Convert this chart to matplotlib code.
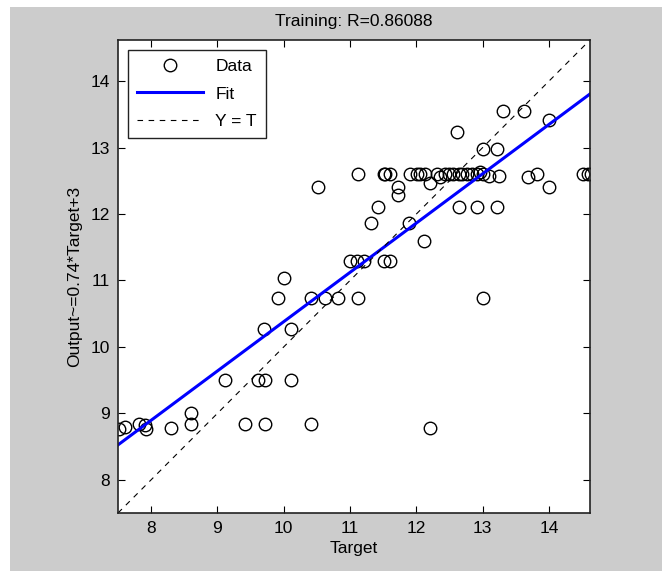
import numpy as np
import matplotlib.pyplot as plt
from matplotlib.patches import Rectangle

plt.rcParams['font.family'] = ['Liberation Sans', 'DejaVu Sans']

# values
target = [7.52, 7.61, 7.81, 7.90, 7.92, 8.30, 8.60, 8.60, 9.11, 9.41,
          9.61, 9.71, 9.71, 9.70, 9.91, 10.01, 10.11, 10.11, 10.41, 10.41,
          10.52, 10.62, 10.82, 11.00, 11.10, 11.12, 11.12, 11.21, 11.31, 11.42,
          11.51, 11.61, 11.51, 11.53, 11.61, 11.72, 11.72, 11.89, 11.90, 12.01,
          12.06, 12.11, 12.13, 12.21, 12.21, 12.31, 12.36, 12.44, 12.49, 12.56,
          12.61, 12.64, 12.65, 12.69, 12.76, 12.84, 12.91, 12.92, 12.96, 13.01,
          13.01, 13.01, 13.09, 13.22, 13.22, 13.24, 13.31, 13.62, 13.69, 13.82,
          14.00, 14.00, 14.52, 14.59, 14.63]
output = [8.76, 8.79, 8.84, 8.82, 8.77, 8.78, 9.00, 8.84, 9.50, 8.84,
          9.50, 9.50, 8.84, 10.27, 10.73, 11.03, 9.50, 10.27, 8.84, 10.73,
          12.40, 10.73, 10.73, 11.29, 11.29, 10.73, 12.61, 11.29, 11.87, 12.10,
          11.29, 11.29, 12.61, 12.61, 12.61, 12.41, 12.28, 11.87, 12.61, 12.61,
          12.61, 11.59, 12.61, 12.47, 8.78, 12.61, 12.56, 12.61, 12.61, 12.61,
          13.24, 12.61, 12.10, 12.61, 12.61, 12.61, 12.61, 12.10, 12.63, 12.61,
          12.98, 10.73, 12.58, 12.98, 12.10, 12.58, 13.55, 13.55, 12.56, 12.61,
          13.42, 12.41, 12.61, 12.61, 12.61]
fit_slope = 0.742
fit_intercept = 2.96
lims = [7.5, 14.62]
ticks = [8, 9, 10, 11, 12, 13, 14]

fig = plt.figure(figsize=(6.62, 5.71), dpi=100, facecolor='white')
# grey figure panel (white strip on top and left as in the screenshot)
fig.patches.append(Rectangle((10 / 662, 0), 1, (571 - 7) / 571,
                             transform=fig.transFigure, facecolor='#cccccc',
                             edgecolor='none', zorder=-10))

ax = fig.add_axes([118 / 662, 58 / 571, 472 / 662, 473 / 571])
ax.set_facecolor('white')

xs = np.array(lims)
ax.plot(target, output, 'o', mfc='none', mec='black', ms=9, mew=1.0, label='Data')
ax.plot(xs, fit_slope * xs + fit_intercept, color='blue', lw=2.2, label='Fit')
ax.plot(xs, xs, '--', color='black', lw=0.8, dashes=(5, 5), label='Y = T')

ax.set_xlim(lims)
ax.set_ylim(lims)
ax.set_xticks(ticks)
ax.set_yticks(ticks)
ax.tick_params(direction='in', top=True, right=True, length=5, width=0.8,
               labelsize=12.5, pad=6)
for s in ax.spines.values():
    s.set_linewidth(1.2)
    s.set_color('#222222')

ax.set_title('Training: R=0.86088', fontsize=12.5, pad=10)
ax.set_xlabel('Target', fontsize=12.5, labelpad=3)
ax.set_ylabel('Output ~= 0.74*Target + 3'.replace(' ', ''), fontsize=12.5, labelpad=6)

leg = ax.legend(loc='upper left', fontsize=12.5, frameon=True, fancybox=False,
                framealpha=1, edgecolor='#222222', handlelength=3.8,
                borderaxespad=0.55, labelspacing=0.7, borderpad=0.55,
                handletextpad=0.7)
leg.get_frame().set_linewidth(1.0)

fig.savefig('out.png', dpi=100, facecolor=fig.get_facecolor())
